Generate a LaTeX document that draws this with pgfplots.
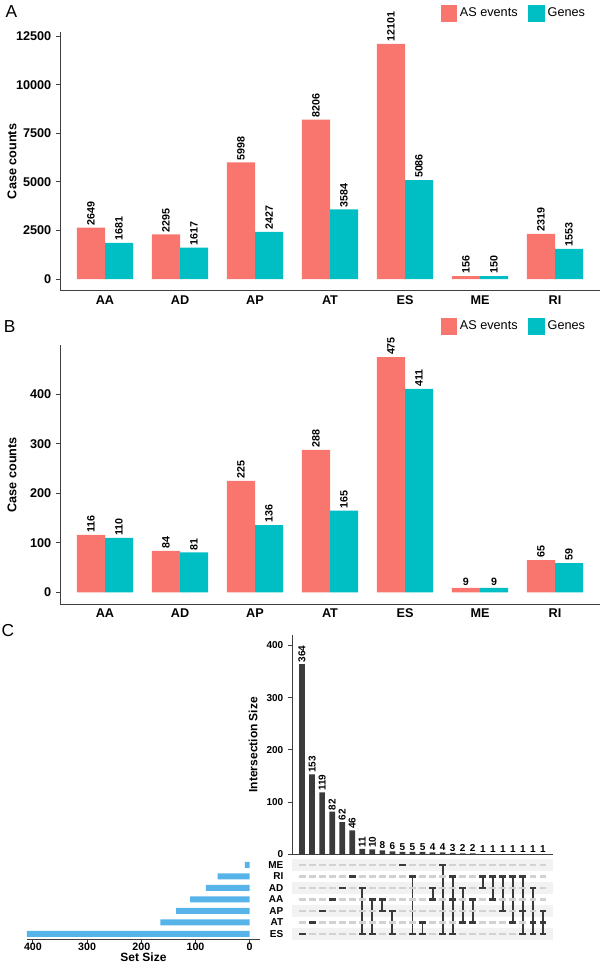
\documentclass[border=0pt]{standalone}
\usepackage{fontspec}
\setmainfont{Liberation Sans}
\usepackage{pgfplots}
\pgfplotsset{compat=1.18}

\definecolor{asred}{HTML}{F8766D}
\definecolor{geneteal}{HTML}{00BFC4}
\definecolor{interbar}{HTML}{3B3B3B}
\definecolor{setblue}{HTML}{56B4E9}
\definecolor{dotgray}{HTML}{D2D2D2}
\definecolor{stripe}{HTML}{F2F2F2}
\newcommand\fs[1]{\fontsize{#1}{#1}\selectfont}

\pgfplotsset{
  counts/.style={
    scale only axis, width=405pt, height=194pt,
    xmin=0.4, xmax=7.6, enlargelimits=false, clip=false,
    xtick={1,...,7}, xticklabels={AA,AD,AP,AT,ES,ME,RI},
    axis x line*=bottom, axis y line*=left,
    axis line style={line width=0.7pt, black!75},
    xtick style={draw=none}, ytick style={line width=0.7pt, black!75},
    tick align=outside, major tick length=3pt,
    ticklabel style={font=\bfseries\fs{9.5}},
    xticklabel style={yshift=3pt},
    /pgf/number format/assume math mode=true,
    /pgf/number format/1000 sep={},
    scaled y ticks=false,
    ylabel={Case counts},
    ylabel style={font=\bfseries\fs{9.5}, at={(axis description cs:-0.089,0.5)}, anchor=center},
    ybar, bar width=0.375,
    point meta=explicit symbolic,
    nodes near coords,
    nodes near coords style={rotate=90, anchor=west, font=\bfseries\fs{8}, inner sep=1.5pt},
    legend columns=2,
    legend style={draw=none, fill=none, font=\fs{9.5}, anchor=east,
      /tikz/every even column/.append style={column sep=6pt}},
    legend image code/.code={\fill[#1] (0pt,-6.5pt) rectangle (12.5pt,6.5pt);},
  },
  upset/.style={
    scale only axis, enlargelimits=false, clip=false,
    axis line style={line width=0.7pt, black!75},
    tick align=outside, major tick length=3pt,
    tick style={line width=0.7pt, black!75},
    ticklabel style={font=\bfseries\fs{7.5}},
    /pgf/number format/assume math mode=true,
  },
  griddot/.style={only marks, mark=-, mark size=2.6pt, dotgray,
    mark options={line width=1.7pt}},
  link/.style={interbar, line width=1.4pt},
}

\begin{document}
\begin{tikzpicture}
\useasboundingbox (0,0) rectangle (450pt,727.5pt);

% ---------------- A
\begin{axis}[counts, at={(45pt,509.4pt)}, anchor=south west,
  ymin=-605, ymax=12706, ytick={0,2500,5000,7500,10000,12500},
  legend style={at={(0.985,1.073)}}]
\addplot[fill=asred, draw=none, bar shift=-0.1875] coordinates {
  (1,2649) [2649] (2,2295) [2295] (3,5998) [5998] (4,8206) [8206]
  (5,12101) [12101] (6,156) [156] (7,2319) [2319]};
\addlegendentry{AS events}
\addplot[fill=geneteal, draw=none, bar shift=0.1875] coordinates {
  (1,1861) [1681] (2,1617) [1617] (3,2427) [2427] (4,3584) [3584]
  (5,5086) [5086] (6,150) [150] (7,1553) [1553]};
\addlegendentry{Genes}
\end{axis}

% ---------------- B
\begin{axis}[counts, at={(45pt,274.4pt)}, anchor=south west,
  ymin=-23.75, ymax=498.75, ytick={0,100,200,300,400},
  legend style={at={(0.985,1.073)}}]
\addplot[fill=asred, draw=none, bar shift=-0.1875] coordinates {
  (1,116) [116] (2,84) [84] (3,225) [225] (4,288) [288]
  (5,475) [475] (6,9) [] (7,65) [65]};
\addlegendentry{AS events}
\addplot[fill=geneteal, draw=none, bar shift=0.1875] coordinates {
  (1,110) [110] (2,81) [81] (3,136) [136] (4,165) [165]
  (5,411) [411] (6,9) [] (7,59) [59]};
\addlegendentry{Genes}
\node[anchor=south, font=\bfseries\fs{8}, inner sep=1.5pt] at (axis cs:5.8125,9) {9};
\node[anchor=south, font=\bfseries\fs{8}, inner sep=1.5pt] at (axis cs:6.1875,9) {9};
\end{axis}

% ---------------- C: intersection sizes
\begin{axis}[upset, at={(219pt,86.6pt)}, anchor=south west,
  width=195.8pt, height=164.8pt,
  xmin=0, xmax=26, ymin=0, ymax=420,
  axis x line*=bottom, axis y line*=left,
  xtick=\empty, ytick={0,100,200,300,400},
  ylabel={Intersection Size}, ylabel style={font=\bfseries\fs{9}},
  ybar, bar width=0.57]
\addplot[fill=interbar, draw=none, bar shift=0, nodes near coords,
  nodes near coords style={rotate=90, anchor=west, font=\bfseries\fs{7.5}, inner sep=1pt}]
  coordinates {(1,364) (2,153) (3,119) (4,82) (5,62) (6,46) (7,11) (8,10)};
\addplot[fill=interbar, draw=none, bar shift=0, nodes near coords,
  nodes near coords style={anchor=south, font=\bfseries\fs{7.5}, inner sep=1pt}]
  coordinates {(9,8) (10,6) (11,5) (12,5) (13,5) (14,4) (15,4) (16,3) (17,2)
  (18,2) (19,1) (20,1) (21,1) (22,1) (23,1) (24,1) (25,1)};
\end{axis}

% ---------------- C: matrix
\begin{axis}[upset, at={(219pt,22.7pt)}, anchor=south west,
  width=195.8pt, height=60.4pt,
  xmin=0, xmax=26, ymin=0.5, ymax=7.5,
  hide x axis, axis y line*=left, y axis line style={draw=none},
  ytick={1,...,7}, yticklabels={ES,AT,AP,AA,AD,RI,ME},
  ytick style={draw=none}]
\fill[stripe] (axis cs:0,0.5) rectangle (axis cs:26,1.5);
\fill[stripe] (axis cs:0,2.5) rectangle (axis cs:26,3.5);
\fill[stripe] (axis cs:0,4.5) rectangle (axis cs:26,5.5);
\fill[stripe] (axis cs:0,6.5) rectangle (axis cs:26,7.5);
\addplot[griddot] coordinates {(1,1) (2,1) (3,1) (4,1) (5,1) (6,1) (7,1) (8,1) (9,1) (10,1) (11,1) (12,1) (13,1) (14,1) (15,1) (16,1) (17,1) (18,1) (19,1) (20,1) (21,1) (22,1) (23,1) (24,1) (25,1)};
\addplot[griddot] coordinates {(1,2) (2,2) (3,2) (4,2) (5,2) (6,2) (7,2) (8,2) (9,2) (10,2) (11,2) (12,2) (13,2) (14,2) (15,2) (16,2) (17,2) (18,2) (19,2) (20,2) (21,2) (22,2) (23,2) (24,2) (25,2)};
\addplot[griddot] coordinates {(1,3) (2,3) (3,3) (4,3) (5,3) (6,3) (7,3) (8,3) (9,3) (10,3) (11,3) (12,3) (13,3) (14,3) (15,3) (16,3) (17,3) (18,3) (19,3) (20,3) (21,3) (22,3) (23,3) (24,3) (25,3)};
\addplot[griddot] coordinates {(1,4) (2,4) (3,4) (4,4) (5,4) (6,4) (7,4) (8,4) (9,4) (10,4) (11,4) (12,4) (13,4) (14,4) (15,4) (16,4) (17,4) (18,4) (19,4) (20,4) (21,4) (22,4) (23,4) (24,4) (25,4)};
\addplot[griddot] coordinates {(1,5) (2,5) (3,5) (4,5) (5,5) (6,5) (7,5) (8,5) (9,5) (10,5) (11,5) (12,5) (13,5) (14,5) (15,5) (16,5) (17,5) (18,5) (19,5) (20,5) (21,5) (22,5) (23,5) (24,5) (25,5)};
\addplot[griddot] coordinates {(1,6) (2,6) (3,6) (4,6) (5,6) (6,6) (7,6) (8,6) (9,6) (10,6) (11,6) (12,6) (13,6) (14,6) (15,6) (16,6) (17,6) (18,6) (19,6) (20,6) (21,6) (22,6) (23,6) (24,6) (25,6)};
\addplot[griddot] coordinates {(1,7) (2,7) (3,7) (4,7) (5,7) (6,7) (7,7) (8,7) (9,7) (10,7) (11,7) (12,7) (13,7) (14,7) (15,7) (16,7) (17,7) (18,7) (19,7) (20,7) (21,7) (22,7) (23,7) (24,7) (25,7)};
\addplot[link] coordinates {(7,5) (7,1)};
\addplot[link] coordinates {(8,4) (8,1)};
\addplot[link] coordinates {(9,4) (9,3)};
\addplot[link] coordinates {(10,3) (10,1)};
\addplot[link] coordinates {(12,6) (12,1)};
\addplot[link] coordinates {(13,2) (13,1)};
\addplot[link] coordinates {(14,5) (14,4)};
\addplot[link] coordinates {(15,7) (15,1)};
\addplot[link] coordinates {(16,6) (16,1)};
\addplot[link] coordinates {(17,5) (17,2)};
\addplot[link] coordinates {(18,4) (18,2)};
\addplot[link] coordinates {(19,6) (19,5)};
\addplot[link] coordinates {(20,6) (20,4)};
\addplot[link] coordinates {(21,6) (21,3)};
\addplot[link] coordinates {(22,6) (22,2)};
\addplot[link] coordinates {(23,6) (23,1)};
\addplot[link] coordinates {(24,5) (24,1)};
\addplot[link] coordinates {(25,3) (25,1)};
\addplot[griddot, interbar] coordinates {
  (1,1) (2,2) (3,3) (4,4) (5,5) (6,6)
  (7,5) (7,1) (8,4) (8,1) (9,4) (9,3) (10,3) (10,1) (11,7)
  (12,6) (12,1) (13,2) (13,1) (14,5) (14,4) (15,7) (15,1)
  (16,6) (16,4) (16,1) (17,5) (17,2) (18,4) (18,2)
  (19,6) (19,5) (20,6) (20,4) (21,6) (21,3) (22,6) (22,2)
  (23,6) (23,3) (23,1) (24,5) (24,2) (24,1) (25,3) (25,2) (25,1)};
\end{axis}

% ---------------- C: set sizes
\begin{axis}[upset, at={(20.25pt,22.7pt)}, anchor=south west,
  width=174.75pt, height=60.4pt,
  xmin=-19, xmax=411, x dir=reverse, ymin=0.5, ymax=7.5,
  axis x line*=bottom, hide y axis,
  xtick={0,100,200,300,400},
  ticklabel style={font=\bfseries\fs{8}, inner sep=1.5pt},
  xticklabel style={yshift=2pt},
  xlabel={Set Size}, xlabel style={font=\bfseries\fs{9}, yshift=3.5pt},
  xbar, bar width=0.52]
\addplot[fill=setblue, draw=none, bar shift=0] coordinates {
  (9,7) (59,6) (81,5) (110,4) (136,3) (165,2) (411,1)};
\end{axis}

\node[font=\fs{13}] at (8.6pt,718.5pt) {A};
\node[font=\fs{13}] at (7.2pt,482.3pt) {B};
\node[font=\fs{13}] at (6pt,254.3pt) {C};
\end{tikzpicture}
\end{document}
